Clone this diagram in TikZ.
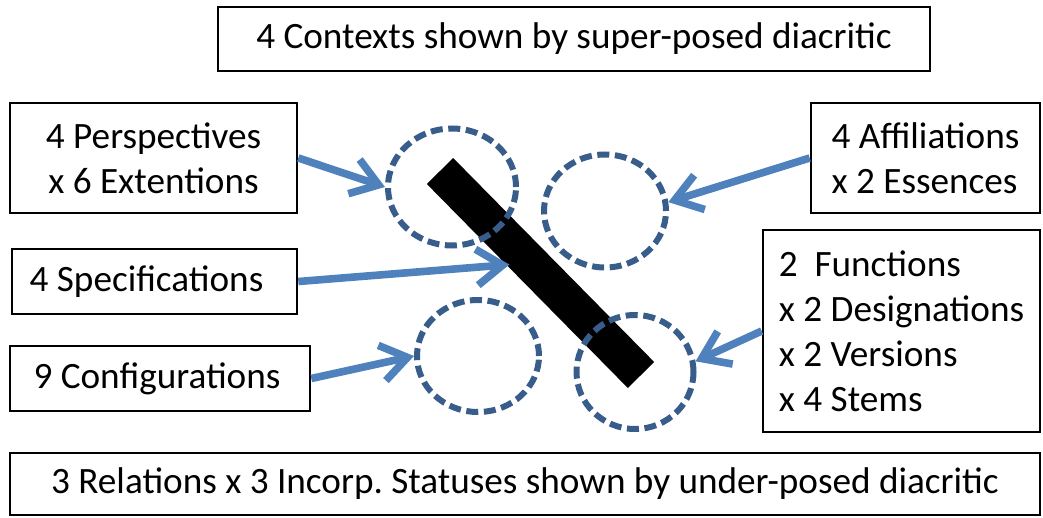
\documentclass[tikz,border=0pt]{standalone}
\usepackage{fontspec}
\setmainfont{Carlito}
\usepackage{tikz}
\usetikzlibrary{calc,positioning,shapes,arrows.meta}
\definecolor{arrowblue}{RGB}{79,129,189}
\definecolor{ringblue}{RGB}{56,93,138}

\begin{document}
\begin{tikzpicture}[x=0.5pt,y=-0.5pt,
	box/.style={draw,line width=1.3pt,inner sep=0pt,font=\fontsize{18.6pt}{22.5pt}\selectfont},
	ring/.style={shape=ellipse,draw=ringblue,line width=3pt,dash pattern=on 6pt off 2.8pt,inner sep=0pt},
	pointer/.style={draw=arrowblue,line width=3.8pt,-{Straight Barb[length=13pt,width=18pt]}}]
		\useasboundingbox (0,0) rectangle (1043,518);
		\begin{scope}
			\node(ctx) at (574,39) [box,minimum width=356pt,minimum height=32pt] {4 Contexts shown by super-posed diacritic};
			\node(rel) at (525,484) [box,minimum width=515pt,minimum height=31pt] {3 Relations x 3 Incorp.\ Statuses shown by under-posed diacritic};

			\node(persp) at (153.5,158) [box,align=center,minimum width=143.5pt,minimum height=55pt] {4 Perspectives\\x 6 Extentions};
			\node(spec) at (154.5,281.5) [box,minimum width=142.5pt,minimum height=32.5pt] {4 Specifications\hspace*{8pt}};
			\node(config) at (160,378.5) [box,minimum width=150pt,minimum height=32.5pt] {9 Configurations\hspace*{3pt}};
			\node(affil) at (925.5,158) [box,align=left,minimum width=114.5pt,minimum height=55pt] {4 Affiliations\\x 2 Essences};
			\node(func) at (901.5,331) [box,align=left,minimum width=138.5pt,minimum height=101pt] {2\ \ Functions\\x 2 Designations\\x 2 Versions\\x 4 Stems};

			\coordinate (bartop) at (440,171);
			\coordinate (barbot) at (641,375);
			\draw[line width=18.5pt] (bartop) -- (barbot);
			\coordinate (hit) at ($(bartop)!0.4!(barbot)+(-11,12)$);

			\node(ctl) at (452,187) [ring,minimum width=64pt,minimum height=58.5pt] {};
			\node(ctr) at (605,211) [ring,minimum width=61pt,minimum height=56.5pt] {};
			\node(cbl) at (478,356) [ring,minimum width=61pt,minimum height=56pt] {};
			\node(cbr) at (635,372) [ring,minimum width=58.5pt,minimum height=57pt] {};

			\draw[pointer] (persp.east) -- (ctl.west);
			\draw[pointer] (spec.east) -- (hit);
			\draw[pointer] (config.east) -- (cbl.west);
			\draw[pointer] (affil.west) -- (ctr.8);
			\draw[pointer] (func.west) -- (cbr.10);
		\end{scope}
	\end{tikzpicture}
\end{document}
